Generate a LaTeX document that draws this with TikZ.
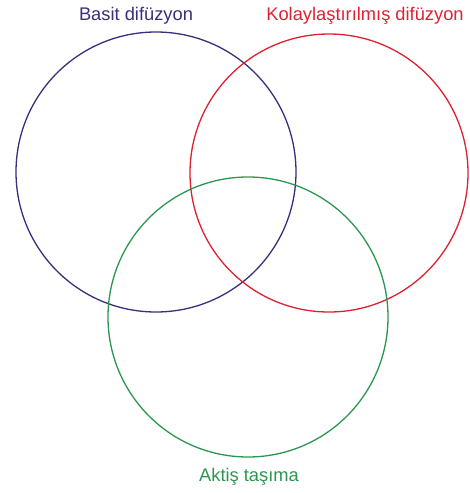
\documentclass[tikz,border=0pt]{standalone}
\usepackage{fontspec}
\setmainfont{Liberation Sans}
\usetikzlibrary{calc}
\definecolor{basitcol}{RGB}{55,48,122}
\definecolor{kolaycol}{RGB}{222,32,48}
\definecolor{aktifcol}{RGB}{44,150,80}
\tikzset{
	kume/.style={line width=1.3pt},
	etiket/.style={font=\fontsize{18.3}{21}\selectfont, inner sep=0pt}
}

\begin{document}
\begin{tikzpicture}[x=1pt,y=-1pt]
			\useasboundingbox (0,0) rectangle (470,493);
			\draw[kume, basitcol] (156,172) circle (140pt);
			\draw[kume, kolaycol] (329,173) circle (139pt);
			\draw[kume, aktifcol] (248,317) circle (140pt);
			\node[etiket, text=basitcol] (basit) at (136,16) {Basit difüzyon};
			\node[etiket, text=kolaycol] (kolay) at (365,16) {Kolaylaştırılmış difüzyon};
			\node[etiket, text=aktifcol] (aktif) at (249,477) {Aktiş taşıma};
		\end{tikzpicture}
\end{document}
